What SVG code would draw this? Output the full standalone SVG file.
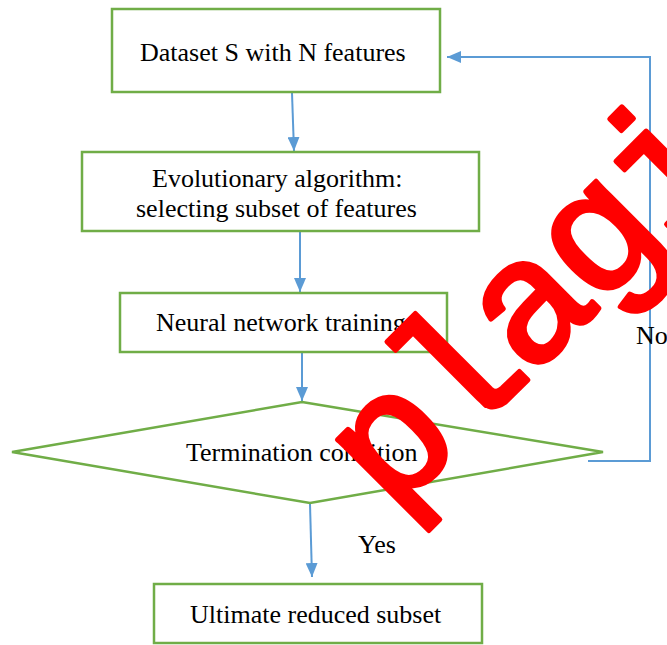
<svg xmlns="http://www.w3.org/2000/svg" width="667" height="645" viewBox="0 0 667 645">
<defs>
<style>
.box{fill:#fff;stroke:#70AD47;stroke-width:2.5}
.lbl{font-family:"Liberation Serif","Times New Roman",serif;font-size:26px;fill:#000}
.con{fill:none;stroke:#5B9BD5;stroke-width:2}
.wm{font-family:"Liberation Mono","Courier New",monospace;font-size:175px;letter-spacing:-8px;fill:#FF0000;stroke:#FF0000;stroke-width:5;stroke-linejoin:round;stroke-linecap:round}
</style>
<marker id="arr" viewBox="0 0 14 12" refX="14" refY="6" markerWidth="14" markerHeight="12" markerUnits="userSpaceOnUse" orient="auto">
<path d="M0,0 L14,6 L0,12 z" fill="#5B9BD5"/>
</marker>
</defs>
<rect width="667" height="645" fill="#fff"/>
<g id="connectors">
<path class="con" d="M292,93 L294,151" marker-end="url(#arr)"/>
<path class="con" d="M300,232 L300,292" marker-end="url(#arr)"/>
<path class="con" d="M302,353 L302,401" marker-end="url(#arr)"/>
<path class="con" d="M310,504 L312,577" marker-end="url(#arr)"/>
<path class="con" d="M588,461 L650,461 L650,57 L447,57" marker-end="url(#arr)"/>
</g>
<g id="n1">
<rect class="box" x="112" y="9" width="328" height="83"/>
<text class="lbl" x="140" y="61">Dataset S with N features</text>
</g>
<g id="n2">
<rect class="box" x="82" y="152" width="397" height="79"/>
<text class="lbl" x="152" y="187">Evolutionary algorithm:</text>
<text class="lbl" x="136" y="217">selecting subset of features</text>
</g>
<g id="n3">
<rect class="box" x="120" y="293" width="327" height="59"/>
<text class="lbl" x="156" y="331">Neural network training</text>
</g>
<g id="n4">
<polygon class="box" points="302,402 603,452 310,503 12,452"/>
<text class="lbl" x="186" y="461">Termination condition</text>
</g>
<g id="n5">
<rect class="box" x="154" y="584" width="328" height="59"/>
<text class="lbl" x="190" y="623">Ultimate reduced subset</text>
</g>
<text class="lbl" x="636" y="344">No</text>
<text class="lbl" x="358" y="553">Yes</text>
<text class="wm" transform="translate(392,516) rotate(-45)">plagi</text>
</svg>
